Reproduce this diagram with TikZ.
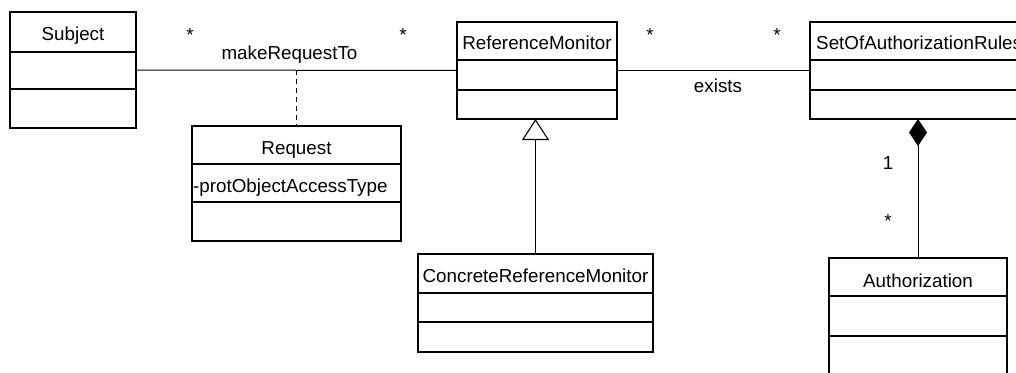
\documentclass[tikz,border=0pt]{standalone}
\usepackage{fontspec}
\setmainfont{Liberation Sans}
\usetikzlibrary{arrows.meta}

% class box: name, x1, y1, x2, y2, first divider, second divider
\newcommand\umlclassbox[7]{%
  \node[cls, minimum width={(#4-#2)*1pt}, minimum height={(#5-#3)*1pt}]
    (#1) at ({(#2+#4)/2},{(#3+#5)/2}) {};
  \draw[divider] (#1.west |- 0,#6) -- (#1.east |- 0,#6);
  \draw[divider] (#1.west |- 0,#7) -- (#1.east |- 0,#7);
}

\tikzset{
  cls/.style={draw, rectangle, line width=1.1pt, inner sep=0pt, outer sep=0pt, fill=white},
  divider/.style={line width=1.1pt},
  txt/.style={font=\fontsize{18.8}{20}\selectfont, inner sep=0pt, anchor=base},
  assoc/.style={line width=1pt},
  linkline/.style={line width=1pt, dash pattern=on 5pt off 4pt},
  gen/.style={line width=1pt, -{Triangle[open, length=21pt, width=27pt, line width=1.1pt]}},
  comp/.style={line width=1pt, -{Diamond[length=27pt, width=18pt]}},
}

\begin{document}
\begin{tikzpicture}[x=1pt, y=-1pt]
  \useasboundingbox (0,0) rectangle (1016,372);
  \fill[white] (0,0) rectangle (1016,372);
  \clip (0,0) rectangle (1016,372);

  % classes
  \umlclassbox{subject}{10}{12}{136}{128}{52}{89}
  \umlclassbox{request}{192}{126}{401}{241}{164}{202}
  \umlclassbox{refmon}{457}{22}{617}{119}{60}{90}
  \umlclassbox{crm}{418}{254}{653}{352}{293}{322}
  \umlclassbox{rules}{810}{22}{1030}{119}{60}{90}
  \umlclassbox{auth}{829}{258}{1007}{400}{296}{336}

  % class names and attributes
  \node[txt] (tsubject) at (73,40.5) {Subject};
  \node[txt] (trequest) at (296.5,154) {Request};
  \node[txt, anchor=base west] (treqattr) at (193,192) {-protObjectAccessType};
  \node[txt] (trefmon) at (537,49) {ReferenceMonitor};
  \node[txt] (tcrm) at (535.5,282) {ConcreteReferenceMonitor};
  \node[txt, anchor=base west] (trules) at (816,49) {SetOfAuthorizationRules};
  \node[txt] (tauth) at (918,287) {Authorization};

  % association Subject -- ReferenceMonitor with association class Request
  \draw[assoc] (subject.east) -- (refmon.west);
  \coordinate (reqlink) at (296.5,70);
  \draw[linkline] (reqlink) -- (request.north);
  \node[txt] (lmake) at (289.5,59.5) {makeRequestTo};
  \node[txt] (mult1) at (190,41) {*};
  \node[txt] (mult2) at (403,41) {*};

  % association ReferenceMonitor -- SetOfAuthorizationRules
  \draw[assoc] (refmon.east) -- (rules.west);
  \node[txt] (lexists) at (718,92) {exists};
  \node[txt] (mult3) at (650,41) {*};
  \node[txt] (mult4) at (777,41) {*};

  % generalization
  \draw[gen] (crm.north) -- (crm.north |- refmon.south);

  % composition
  \draw[comp] (auth.north) -- (auth.north |- rules.south);
  \node[txt] (mult5) at (888,169) {1};
  \node[txt] (mult6) at (888,227) {*};
\end{tikzpicture}
\end{document}
